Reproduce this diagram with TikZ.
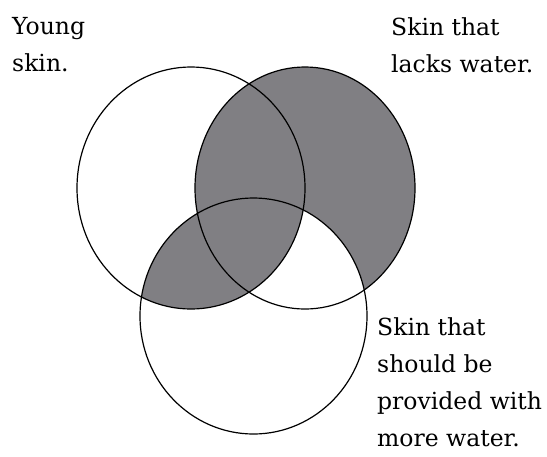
\documentclass[tikz,border=0pt]{standalone}
\usepackage{fontspec}
\setmainfont{DejaVu Serif}
\usepackage{tikz}
\usetikzlibrary{positioning}
\definecolor{shB}{RGB}{128,127,131}

\begin{document}
\begin{tikzpicture}[x=1pt,y=-1pt,font=\fontsize{23.5}{37}\selectfont,
   sh/.style={fill=shB},
   e/.style={draw=black,line width=1.2pt},
   lab/.style={anchor=north west,align=left,inner sep=0pt}]
\useasboundingbox (0,0) rectangle (547,456);
%% ---- set centres ----
\coordinate (young) at (191,188);
\coordinate (lacks) at (305,188);
\coordinate (more) at (253.5,316);
%% ---- shading ----
\fill[sh] (lacks) ellipse [x radius=110pt,y radius=121pt];
\fill[white] (more) ellipse [x radius=113.5pt,y radius=118pt];
\begin{scope}
  \clip (young) ellipse [x radius=114pt,y radius=121pt];
  \fill[sh] (more) ellipse [x radius=113.5pt,y radius=118pt];
\end{scope}
%% ---- outlines ----
\path[e] (young) ellipse [x radius=114pt,y radius=121pt];
\path[e] (lacks) ellipse [x radius=110pt,y radius=121pt];
\path[e] (more) ellipse [x radius=113.5pt,y radius=118pt];
%% ---- labels ----
\node[lab] (tyoung) at (12,17.5) {Young\\skin.};
\node[lab] (tlacks) at (391,17) {Skin that\\lacks water.};
\node[lab] (tmore) at (377,317) {Skin that\\should be\\provided with\\more water.};
\end{tikzpicture}
\end{document}
